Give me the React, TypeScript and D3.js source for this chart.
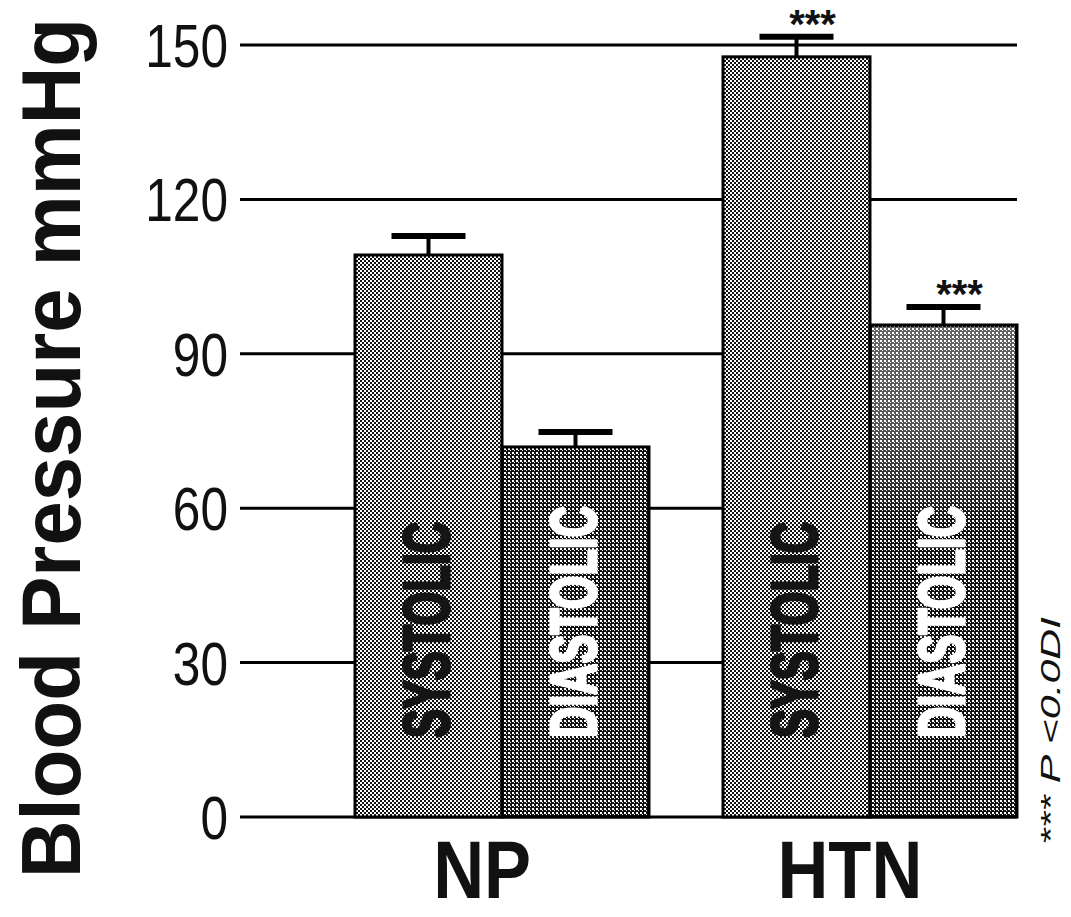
import React from "react";
import * as d3 from "d3";

const groups = ["NP", "HTN"];
const series = ["SYSTOLIC", "DIASTOLIC"];
const systolic = [109.2, 147.7];
const systolicErr = [3.7, 3.9];
const diastolic = [71.9, 95.6];
const diastolicErr = [2.9, 3.5];
const significant = [false, true];
const yTicks = [0, 30, 60, 90, 120, 150];

const W = 1071;
const H = 917;

const App = () => {
  const y = d3.scaleLinear().domain([0, 150]).range([817, 45]);
  const x0 = d3.scaleBand().domain(groups).range([355, 1017]).paddingInner(0.2);
  const x1 = d3.scaleBand().domain(series).range([0, x0.bandwidth()]);

  const bars = groups.flatMap((g, i) => [
    { g, s: "SYSTOLIC", v: systolic[i], e: systolicErr[i], sig: significant[i] },
    { g, s: "DIASTOLIC", v: diastolic[i], e: diastolicErr[i], sig: significant[i] },
  ]);

  return (
    <svg
      width={W}
      height={H}
      style={{ position: "absolute", left: 0, top: 0, background: "#fff" }}
      fontFamily="'Liberation Sans', Arial, sans-serif"
    >
      <defs>
        <pattern id="sys" width="4" height="4" patternUnits="userSpaceOnUse">
          <rect width="4" height="4" fill="#fff" />
          <rect width="2" height="2" fill="#111" />
          <rect x="2" y="2" width="2" height="2" fill="#111" />
        </pattern>
        <pattern id="dia" width="4" height="4" patternUnits="userSpaceOnUse">
          <rect width="4" height="4" fill="#111" />
          <rect width="2" height="2" fill="#fff" />
          <rect x="2" y="2" width="1" height="1" fill="#fff" />
        </pattern>
        <linearGradient id="fade" x1="0" y1="0" x2="0" y2="1">
          <stop offset="0" stopColor="#fff" stopOpacity={0.35} />
          <stop offset="0.5" stopColor="#fff" stopOpacity={0.28} />
          <stop offset="1" stopColor="#fff" stopOpacity={0} />
        </linearGradient>
      </defs>

      {/* grid */}
      {yTicks.map((t) => (
        <line key={t} x1={240} x2={1017} y1={y(t)} y2={y(t)} stroke="#000" strokeWidth={3} />
      ))}

      {/* tick labels */}
      {yTicks.map((t) => (
        <text
          key={"l" + t}
          transform={`translate(228,${y(t) + 22}) scale(0.8,1)`}
          textAnchor="end"
          fontSize={62}
          fill="#111"
        >
          {t}
        </text>
      ))}

      {/* bars */}
      {bars.map((b) => {
        const bx = Math.round(x0(b.g)! + x1(b.s)!);
        const bw = Math.round(x1.bandwidth());
        const cx = bx + bw / 2;
        const top = y(b.v);
        const cap = y(b.v + b.e);
        const isSys = b.s === "SYSTOLIC";
        const h = y(0) - top;
        return (
          <g key={b.g + b.s}>
            <rect
              x={bx}
              y={top}
              width={bw}
              height={h}
              fill={isSys ? "url(#sys)" : "url(#dia)"}
              stroke="#000"
              strokeWidth={3}
            />
            {b.g === "HTN" && !isSys && (
              // scanned-in lighter patch at the top of this bar
              <rect x={bx + 2} y={top + 2} width={bw - 4} height={h * 0.4} fill="url(#fade)" />
            )}
            <line x1={cx} x2={cx} y1={top} y2={cap} stroke="#000" strokeWidth={4} />
            <line x1={cx - 37} x2={cx + 37} y1={cap} y2={cap} stroke="#000" strokeWidth={6} />
            {b.sig && (
              <text x={cx + 16} y={cap + 1} textAnchor="middle" fontSize={40} fontWeight="bold" fill="#111">
                ***
              </text>
            )}
            <text
              transform={`translate(${cx + 20},738) rotate(-90)`}
              textLength={isSys ? 216 : 232}
              lengthAdjust="spacingAndGlyphs"
              fontSize={64}
              fontWeight="bold"
              fill={isSys ? "#151515" : "#fff"}
              stroke={isSys ? "#151515" : "#fff"}
              strokeWidth={3}
              strokeLinejoin="round"
            >
              {b.s}
            </text>
          </g>
        );
      })}

      {/* category labels */}
      {groups.map((g) => (
        <text
          key={g}
          transform={`translate(${x0(g)! + x0.bandwidth() / 2 - 20},898) scale(0.86,1)`}
          textAnchor="middle"
          fontSize={82}
          fontWeight="bold"
          fill="#111"
        >
          {g}
        </text>
      ))}

      {/* y title */}
      <text
        transform="translate(80,448) rotate(-90)"
        textAnchor="middle"
        textLength={860}
        lengthAdjust="spacingAndGlyphs"
        fontSize={84}
        fontWeight="bold"
        fill="#111"
      >
        Blood Pressure mmHg
      </text>

      {/* footnote */}
      <text
        transform="translate(1060,845) rotate(-90)"
        textLength={228}
        lengthAdjust="spacingAndGlyphs"
        fontSize={28}
        fontStyle="italic"
        fill="#111"
      >
        *** P &lt;0.0DI
      </text>
    </svg>
  );
};

export default App;
